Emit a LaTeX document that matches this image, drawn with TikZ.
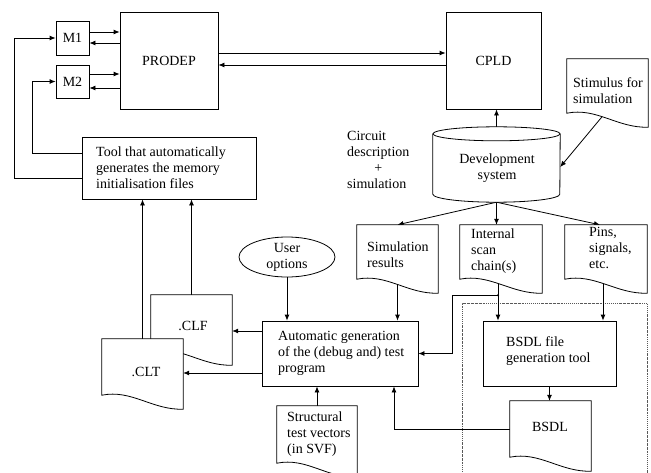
\documentclass[tikz,border=0pt]{standalone}
\usepackage{fontspec}
\setmainfont{Liberation Serif}
\usetikzlibrary{arrows.meta,shapes.geometric,calc}
\tikzset{
  every node/.style={font=\fontsize{14pt}{16pt}\selectfont, inner sep=0pt},
  lw/.style={line width=0.8pt},
  box/.style={draw, lw, fill=white, rectangle},
  docn/.style={draw=none, rectangle, minimum width=81pt},
  txt/.style={anchor=west, align=left},
  arr/.style={lw, -{Latex[length=6pt,width=5pt]}},
  dotrect/.style={line width=0.6pt, gray!70!black, dash pattern=on 1.5pt off 1pt on 0.4pt off 1pt},
}
\newcommand\docshape[1]{%
  \draw[lw, fill=white] (#1.south west) -- (#1.north west) -- (#1.north east)
    -- ([yshift=-14pt]#1.south east)
    .. controls ([xshift=-31pt,yshift=-15pt]#1.south east) and ([xshift=30pt,yshift=6pt]#1.south west) ..
    (#1.south west) -- cycle;}
\begin{document}
\begin{tikzpicture}[x=1pt,y=-1pt]
\useasboundingbox (0,0) rectangle (651,472);
\clip (0,0) rectangle (651,472);

% dotted frame round the BSDL part
\draw[dotrect] (462,480) -- (462,303) -- (647,303) -- (647,480);

% boxes
\node[box, minimum width=33pt, minimum height=34pt] (m1) at (72.5,38) {M1};
\node[box, minimum width=33pt, minimum height=33pt] (m2) at (72.5,81.5) {M2};
\node[box, minimum width=98pt, minimum height=97pt] (prodep) at (169,60.5) {PRODEP};
\node[box, minimum width=95pt, minimum height=97pt] (cpld) at (493.5,60.5) {CPLD};
\node[box, minimum width=174pt, minimum height=62pt] (tool) at (169,168) {};
\node[box, minimum width=156pt, minimum height=65pt] (auto) at (340,353.5) {};
\node[box, minimum width=133pt, minimum height=65pt] (bsdltool) at (549.5,353.5) {};
\node[draw, lw, ellipse, minimum width=96pt, minimum height=40pt, align=center] (uopt) at (287,257) {User\\options};

% helper shapes (drawn later)
\node[draw=none, rectangle, minimum width=127pt, minimum height=60pt] (dev) at (496.5,164) {};
\node[docn, minimum height=54pt] (stim) at (607.5,86) {};
\node[docn, minimum height=56pt] (clf) at (191.5,323) {};
\node[docn, minimum height=56pt] (clt) at (142.5,367) {};
\node[docn, minimum height=54pt] (sim) at (397.5,252) {};
\node[docn, minimum width=82pt, minimum height=54pt] (int) at (501,252) {};
\node[docn, minimum width=82pt, minimum height=54pt] (pins) at (606,252) {};
\node[docn, minimum height=56pt] (bsdl) at (550.5,429) {};
\node[docn, minimum width=80pt, minimum height=57pt] (struct) at (317,434.5) {};

% helper coordinates
\path ([yshift=6pt]m1.east) coordinate (m1a) ([yshift=-5pt]m1.east) coordinate (m1b)
      ([yshift=7.5pt]m2.east) coordinate (m2a) ([yshift=-6.5pt]m2.east) coordinate (m2b)
      ([yshift=7.5pt]prodep.east) coordinate (pca) ([yshift=-4.5pt]prodep.east) coordinate (pcb)
      ([yshift=15pt]tool.west) coordinate (t2) ([yshift=-10pt]tool.west) coordinate (t1)
      ([yshift=22.5pt]auto.west) coordinate (a1) ([yshift=-19.5pt]auto.west) coordinate (a2)
      ([yshift=-8pt]dev.south) coordinate (devb)
      ($(int.south)+(-3,16)$) coordinate (j);

% connectors
\draw[arr] (m1a) -- (m1a -| prodep.west);
\draw[arr] (m1b -| prodep.west) -- (m1b);
\draw[arr] (m2a) -- (m2a -| prodep.west);
\draw[arr] (m2b -| prodep.west) -- (m2b);
\draw[arr] (pca) -- (pca -| cpld.west);
\draw[arr] (pcb -| cpld.west) -- (pcb);
\draw[arr] (t2) -- ++(-49,0) |- (m2.west);
\draw[arr] (t1) -- ++(-67,0) |- (m1.west);
\draw[arr] (clt.north) -- (clt.north |- tool.south);
\draw[arr] (clf.north) -- (clf.north |- tool.south);
\draw[arr] (a1) -- (a1 -| clf.east);
\draw[arr] (a2) -- (a2 -| clt.east);
\draw[arr] (uopt.south) -- (uopt.south |- auto.north);
\draw[arr] (sim.south) -- (sim.south |- auto.north);
\draw[arr] ([yshift=-2pt]dev.north) -- (dev.north |- cpld.south);
\draw[arr] ([xshift=-2.5pt]stim.south) -- ([yshift=-3pt]dev.east);
\draw[arr] (devb) -- (sim.north);
\draw[arr] (devb) -- (devb |- int.north);
\draw[arr] (devb) -- ([xshift=-6pt]pins.north);
\draw[arr] (j |- int.south) -- (j |- bsdltool.north);
\fill (j) circle (1.2pt);
\draw[arr] (j) -- ++(-46,0) |- (auto.east);
\draw[arr] ([xshift=-3pt]pins.south) -- ([xshift=-3pt]pins.south |- bsdltool.north);
\draw[arr] (bsdltool.south) -- (bsdltool.south |- bsdl.north);
\draw[arr] (bsdl.west) -| ([xshift=54pt]auto.south);
\draw[arr] (struct.north) -- (struct.north |- auto.south);

% cylinder
\draw[lw, fill=white] (dev.north west) -- (dev.south west)
   arc[start angle=180, end angle=360, x radius=63.5pt, y radius=8pt] -- (dev.north east);
\draw[lw, fill=white] (dev.north) ellipse [x radius=63.5pt, y radius=7pt];

% documents
\docshape{stim}
\docshape{sim}
\docshape{int}
\docshape{pins}
\docshape{clf}
\docshape{clt}
\docshape{bsdl}
\docshape{struct}

% texts
\node[txt] (tooltxt) at (96,168) {Tool that automatically\\generates the memory\\initialisation files};
\node[txt] (stimtxt) at (573,91) {Stimulus for\\simulation};
\node[align=center] (devtxt) at (497,168) {Development\\system};
\node[anchor=west] (circ) at (347,161) {\begin{tabular}{@{}l@{}}Circuit\\description\\\multicolumn{1}{@{}c@{}}{+}\\simulation\end{tabular}};
\node[txt] (simtxt) at (367,255) {Simulation\\results};
\node[txt] (inttxt) at (471,251) {Internal\\scan\\chain(s)};
\node[txt] (pinstxt) at (589,248) {Pins,\\signals,\\etc.};
\node[txt] (autotxt) at (278,353) {Automatic generation\\of the (debug and) test\\program};
\node[txt] (bsdltooltxt) at (506,351.5) {BSDL file\\generation tool};
\node (bsdltxt) at (550,427) {BSDL};
\node[txt] (structtxt) at (287,434) {Structural\\test vectors\\(in SVF)};
\node (clftxt) at (193,326) {.CLF};
\node (clttxt) at (146,372) {.CLT};
\end{tikzpicture}
\end{document}
